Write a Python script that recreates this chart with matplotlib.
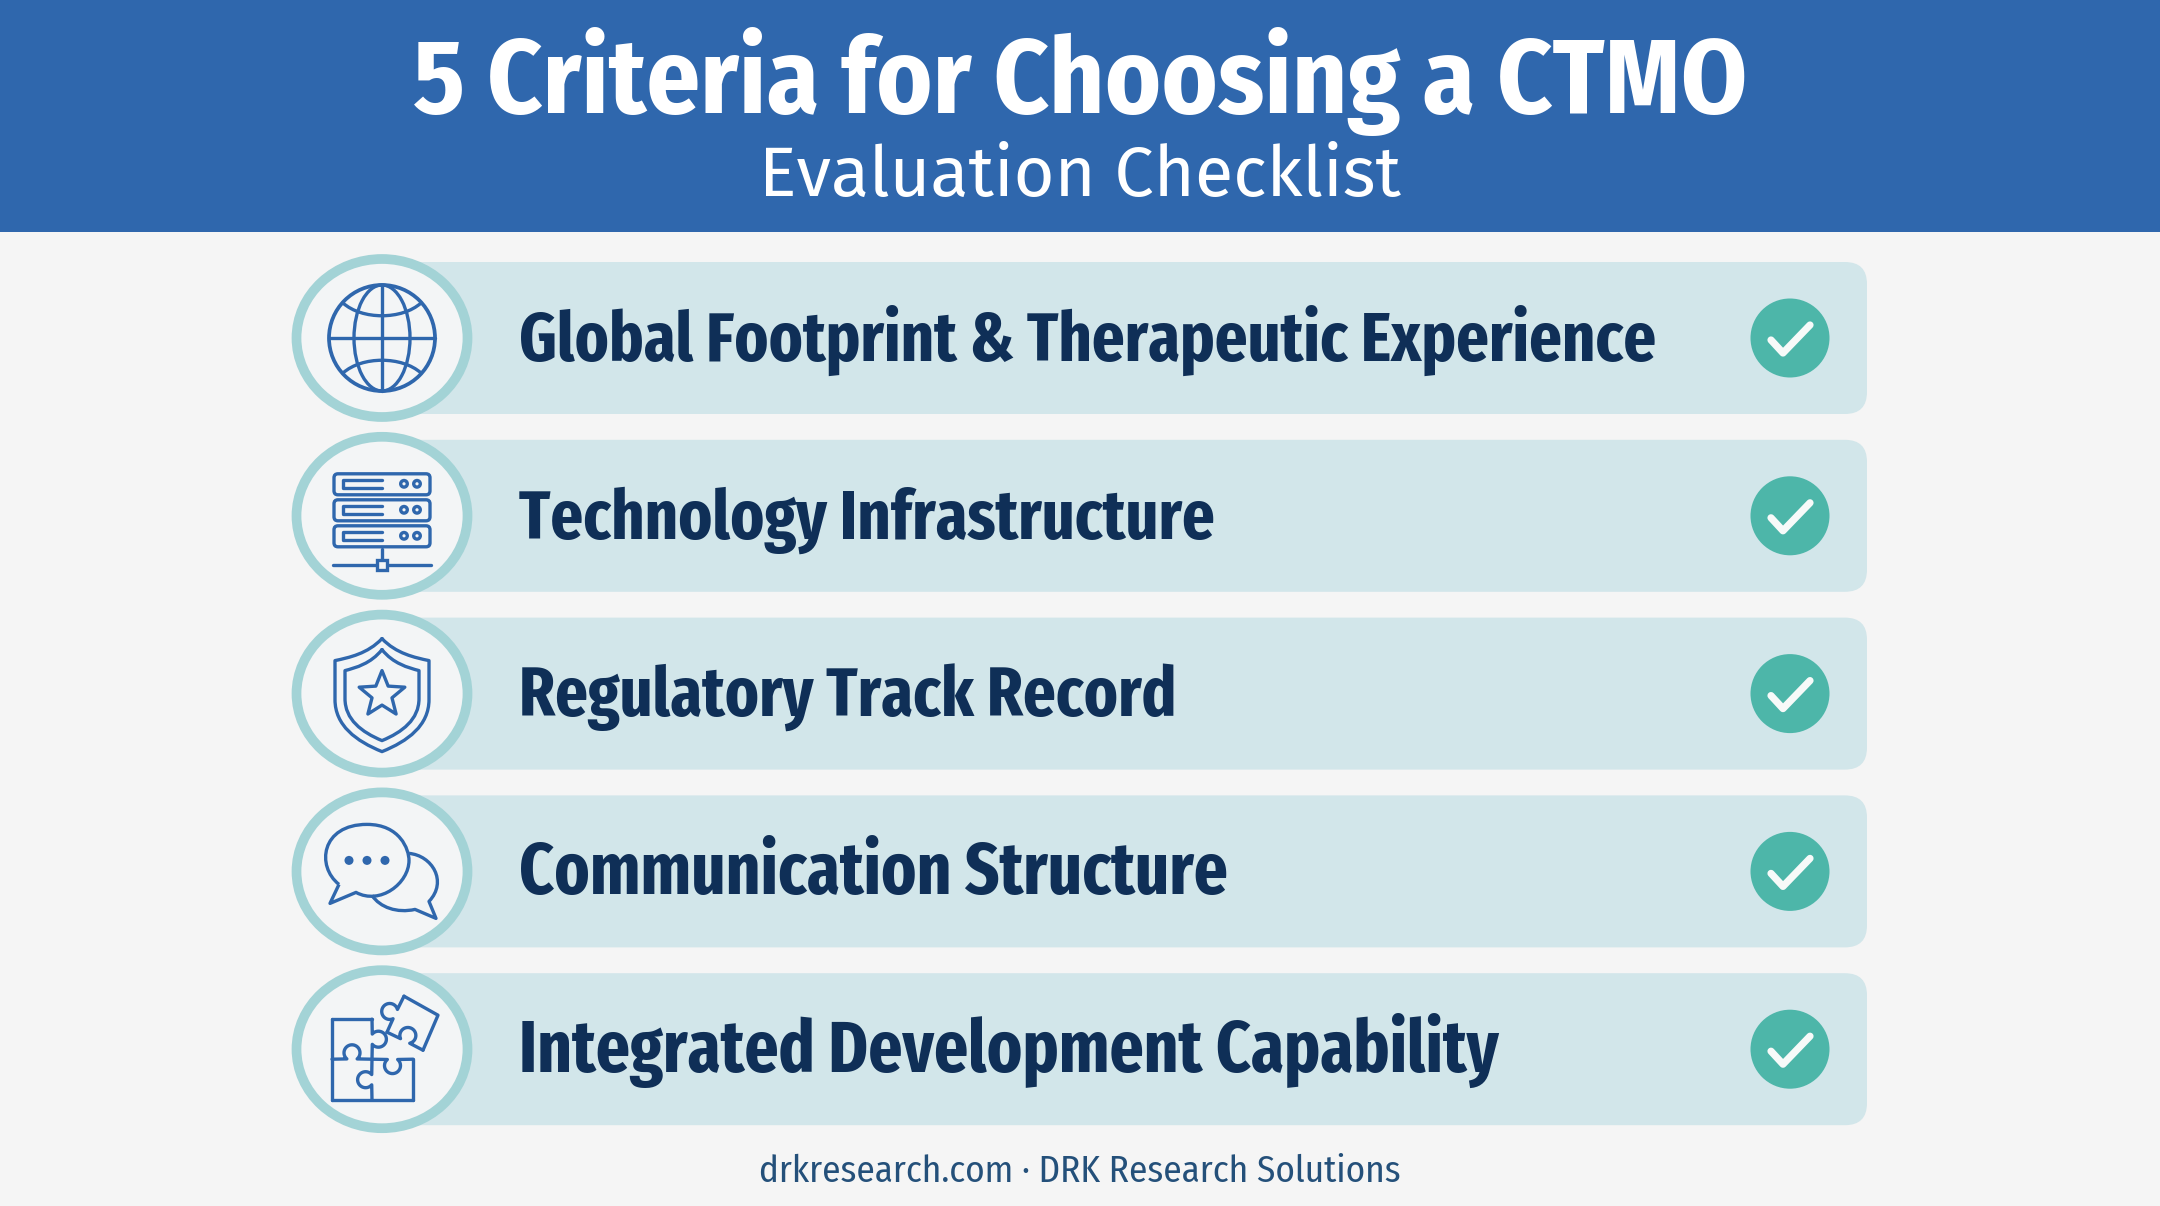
"""Evaluation checklist graphic: five criteria rows with icons and check marks."""

import matplotlib

matplotlib.use("Agg")
import matplotlib.pyplot as plt
import numpy as np
from matplotlib.patches import Circle, Ellipse, FancyBboxPatch, PathPatch, Rectangle
from matplotlib.path import Path

TITLE = "5 Criteria for Choosing a CTMO"
SUBTITLE = "Evaluation Checklist"
FOOTER = "drkresearch.com · DRK Research Solutions"
CRITERIA = [
    "Global Footprint & Therapeutic Experience",
    "Technology Infrastructure",
    "Regulatory Track Record",
    "Communication Structure",
    "Integrated Development Capability",
]

BLUE = "#2F67AD"
PAGE = "#F5F5F5"
BAR = "#D2E6EA"
RING = "#A3D3D6"
DISC = "#F3F5F6"
TEAL = "#4DB6A9"
NAVY = "#0F2F57"

CONDENSED = ["Fira Sans Condensed", "Roboto"]
EXTRA_CONDENSED = ["Fira Sans Extra Condensed", "Fira Sans Condensed", "Roboto"]
REGULAR = ["Fira Sans", "Open Sans"]
ICON_LW = 2.4  # points, about 3.3 px at dpi 100
LABEL_SIZES = [50.2, 50.2, 50.2, 52.2, 52.3]  # last two rows run a bit wider in the reference


def stroke(ax, pts, closed=False, lw=ICON_LW, color=BLUE, curve=False):
    """Draw a polyline, or a chain of cubic beziers if curve=True."""
    pts = list(pts)
    if curve:
        codes = [Path.MOVETO] + [Path.CURVE4] * (len(pts) - 1)
    else:
        codes = [Path.MOVETO] + [Path.LINETO] * (len(pts) - 1)
    if closed:
        pts.append(pts[0])
        codes.append(Path.CLOSEPOLY)
    ax.add_patch(PathPatch(Path(pts, codes), fill=False, ec=color, lw=lw,
                           capstyle="round", joinstyle="round", zorder=5))


def globe(ax, cx, cy):
    r = 53
    ax.add_patch(Circle((cx, cy), r, fill=False, ec=BLUE, lw=ICON_LW + 0.3, zorder=5))
    ax.add_patch(Ellipse((cx, cy), 56, 2 * r, fill=False, ec=BLUE, lw=ICON_LW, zorder=5))
    stroke(ax, [(cx, cy - r), (cx, cy + r)])
    stroke(ax, [(cx - r, cy), (cx + r, cy)])
    for sign in (-1, 1):
        stroke(ax, [(cx - 39, cy + sign * 35), (cx - 20, cy + sign * 18),
                    (cx + 20, cy + sign * 18), (cx + 39, cy + sign * 35)], curve=True)


def server(ax, cx, cy):
    for top in (-44, -18, 8):
        ax.add_patch(FancyBboxPatch((cx - 48, cy + top + 2), 96, 21,
                                    boxstyle="round,pad=0,rounding_size=4",
                                    fill=False, ec=BLUE, lw=ICON_LW, zorder=5))
        mid = cy + top + 12
        stroke(ax, [(cx, mid - 4), (cx - 39, mid - 4), (cx - 39, mid + 4), (cx, mid + 4)])
        for dx in (22, 35):
            ax.add_patch(Circle((cx + dx, mid), 3.3, fill=False, ec=BLUE, lw=ICON_LW, zorder=5))
    stroke(ax, [(cx, cy + 33), (cx, cy + 49)])
    stroke(ax, [(cx - 49, cy + 49), (cx + 49, cy + 49)])
    ax.add_patch(Rectangle((cx - 5, cy + 44), 10, 10, fc=DISC, ec=BLUE, lw=ICON_LW, zorder=6))


def shield_outline(ax, cx, cy, top, shoulder, half, side, bottom):
    pts = [(cx, cy + top), (cx - half * 0.3, cy + shoulder - 4), (cx - half * 0.7, cy + shoulder),
           (cx - half, cy + shoulder + 3),
           (cx - half, cy + side * 0.4), (cx - half, cy + side),
           (cx - half, cy + side),
           (cx - half, cy + bottom * 0.55), (cx - half * 0.55, cy + bottom * 0.82), (cx, cy + bottom),
           (cx + half * 0.55, cy + bottom * 0.82), (cx + half, cy + bottom * 0.55), (cx + half, cy + side),
           (cx + half, cy + side), (cx + half, cy + side * 0.4), (cx + half, cy + shoulder + 3),
           (cx + half * 0.7, cy + shoulder), (cx + half * 0.3, cy + shoulder - 4), (cx, cy + top)]
    stroke(ax, pts, curve=True)


def shield(ax, cx, cy):
    shield_outline(ax, cx, cy, -55, -36, 47, 6, 58)
    shield_outline(ax, cx, cy, -44, -26, 37, 5, 47)
    angles = np.deg2rad(-90 + 36 * np.arange(10))
    radii = np.where(np.arange(10) % 2 == 0, 24, 10.5)
    star = list(zip(cx + radii * np.cos(angles), cy + 1 + radii * np.sin(angles)))
    stroke(ax, star, closed=True)


def bubbles(ax, cx, cy):
    ax.add_patch(PathPatch(Path(
        [(cx - 43, cy + 13), (cx - 66, cy - 5), (cx - 61, cy - 47), (cx - 15, cy - 47),
         (cx + 18, cy - 47), (cx + 27, cy - 22), (cx + 27, cy - 11),
         (cx + 27, cy + 12), (cx - 2, cy + 34), (cx - 26, cy + 21),
         (cx - 52, cy + 32), (cx - 43, cy + 13)],
        [Path.MOVETO, Path.CURVE4, Path.CURVE4, Path.CURVE4, Path.CURVE4, Path.CURVE4, Path.CURVE4,
         Path.CURVE4, Path.CURVE4, Path.CURVE4, Path.LINETO, Path.LINETO]),
        fill=False, ec=BLUE, lw=ICON_LW, joinstyle="round", zorder=5))
    ax.add_patch(PathPatch(Path(
        [(cx + 27, cy - 18), (cx + 50, cy - 16), (cx + 66, cy + 10), (cx + 47, cy + 30),
         (cx + 54, cy + 47), (cx + 33, cy + 38),
         (cx + 15, cy + 42), (cx - 2, cy + 36), (cx - 10, cy + 24)],
        [Path.MOVETO, Path.CURVE4, Path.CURVE4, Path.CURVE4, Path.LINETO, Path.LINETO,
         Path.CURVE4, Path.CURVE4, Path.CURVE4]),
        fill=False, ec=BLUE, lw=ICON_LW, joinstyle="round", zorder=5))
    for dx in (-33, -15, 3):
        ax.add_patch(Circle((cx + dx, cy - 11), 4.5, fc=BLUE, ec="none", zorder=5))


def knob_edge(p0, p1, side, r=8.0):
    """Points along an edge with a round puzzle knob in the middle."""
    p0, p1 = np.asarray(p0, float), np.asarray(p1, float)
    d = p1 - p0
    u = d / np.hypot(*d)
    n = np.array([-u[1], u[0]]) * side
    centre = p0 + d / 2 + n * r * 0.8
    sweep = np.linspace(0.7, 2 * np.pi - 0.7, 30)
    # walk round the knob from the p0 side to the p1 side
    arc = [centre + r * (np.cos(a) * -n + np.sin(a) * -u) for a in sweep]
    return [p0] + arc + [p1]


def puzzle(ax, cx, cy):
    x0, xm, x1 = cx - 50, cx - 10, cx + 31
    y0, ym, y1 = cy - 30, cy + 10, cy + 51
    stroke(ax, [(x0, y0), (x0, y1)])
    stroke(ax, [(x0, y0), (xm, y0)])
    stroke(ax, [(x0, y1), (x1, y1)])
    stroke(ax, [(x1, ym), (x1, y1)])
    stroke(ax, knob_edge((xm, y0), (xm, ym), -1))
    stroke(ax, knob_edge((x0, ym), (xm, ym), -1))
    stroke(ax, knob_edge((xm, ym), (x1, ym), 1))
    stroke(ax, knob_edge((xm, ym), (xm, y1), 1))
    # loose rotated piece
    a, b, c, d = (cx + 22, cy - 53), (cx + 56, cy - 34), (cx + 41, cy + 1), (cx + 5, cy - 17)
    stroke(ax, [a, b, c])
    stroke(ax, knob_edge(d, a, -1))
    stroke(ax, knob_edge(c, d, 1))


def check_badge(ax, cx, cy):
    ax.add_patch(Circle((cx, cy), 39.5, fc=TEAL, ec="none", zorder=4))
    stroke(ax, [(cx - 19, cy + 2), (cx - 7, cy + 15), (cx + 20, cy - 13)], lw=5.2, color="#F7FAF9")


ICONS = [globe, server, shield, bubbles, puzzle]


def main():
    fig = plt.figure(figsize=(21.6, 12.06), dpi=100, facecolor=PAGE)
    ax = fig.add_axes([0, 0, 1, 1])
    ax.set_xlim(0, 2160)
    ax.set_ylim(1206, 0)
    ax.axis("off")

    # Banner
    ax.add_patch(Rectangle((0, 0), 2160, 232, fc=BLUE, ec="none", zorder=1))
    ax.text(1080, 113, TITLE, color="white", ha="center", va="baseline",
            fontsize=76.3, fontweight="bold", family=CONDENSED)
    ax.text(1080, 196, SUBTITLE, color="white", ha="center", va="baseline",
            fontsize=50.5, family=REGULAR)

    # Rows
    for i, (label, icon) in enumerate(zip(CRITERIA, ICONS)):
        cy = 338 + i * 177.8
        ax.add_patch(FancyBboxPatch((340, cy - 76), 1527, 152,
                                    boxstyle="round,pad=0,rounding_size=22",
                                    fc=BAR, ec="none", zorder=2))
        ax.add_patch(Ellipse((382, cy), 171, 158, fc=DISC, ec=RING, lw=7, zorder=3))
        icon(ax, 382, cy)
        ax.text(519, cy + 23, label, color=NAVY, ha="left", va="baseline",
                fontsize=LABEL_SIZES[i], fontweight="bold", family=EXTRA_CONDENSED, zorder=5)
        check_badge(ax, 1790, cy)

    ax.text(1080, 1182, FOOTER, color="#24507A", ha="center", va="baseline",
            fontsize=26.7, family=CONDENSED)

    fig.savefig("out.png", dpi=100, facecolor=PAGE)
    plt.close(fig)


if __name__ == "__main__":
    main()
